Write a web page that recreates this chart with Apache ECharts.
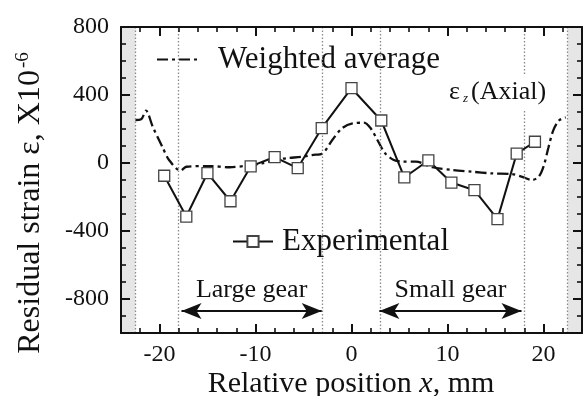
<!DOCTYPE html>
<html>
<head>
<meta charset="utf-8">
<script src="https://cdn.jsdelivr.net/npm/echarts@6/dist/echarts.min.js"></script>
<style>html,body{margin:0;padding:0;background:#fff;}#c{width:583px;height:396px;}</style>
</head>
<body>
<div id="c"></div>
<script>
// ---- data ----
var expX = [-19.5, -17.2, -15.0, -12.6, -10.5, -8.0, -5.6, -3.1, 0.0, 3.1, 5.5, 8.0, 10.4, 12.8, 15.2, 17.2, 19.1];
var expY = [-75, -315, -60, -225, -20, 35, -30, 205, 440, 250, -85, 15, -115, -160, -330, 55, 125];
var avgX = [-22.5, -21.9, -21.4, -20.7, -19.7, -19.0, -17.8, -17.2, -14.8, -12.7, -10.6, -9.3, -7.9, -6.8, -5.1, -4.1, -3.0, -2.0, -1.0, 0.1, 1.3, 2.0, 2.7, 3.5, 4.4, 5.3, 6.7, 8.4, 10.5, 12.5, 14.6, 16.7, 17.7, 18.8, 19.5, 20.0, 20.5, 21.0, 21.6, 22.3];
var avgY = [253, 257, 308, 214, 96, 18, -45, -22, -18, -25, -14, -2, 18, 28, 37, 47, 57, 135, 204, 233, 237, 204, 135, 57, 18, 8, 8, -25, -41, -51, -61, -65, -80, -100, -80, -20, 90, 190, 250, 268];
var xMajorTicks = [-20, -10, 0, 10, 20];
var yMajorTicks = [-800, -400, 0, 400, 800];
var shadedSpans = [[-24, -22.5], [22.5, 24]];
var dottedLines = [-22.5, -18, -3, 3, 18, 22.5];
var largeGearSpan = [-17.7, -3.1];
var smallGearSpan = [2.9, 17.7];
var gearArrowY = -870;
var seriesNames = ['Weighted average', 'Experimental'];

var SERIF = '"Liberation Serif", "Times New Roman", serif';
function pairs(xs, ys) { return xs.map(function (x, i) { return [x, ys[i]]; }); }

var chart = echarts.init(document.getElementById('c'));

function xAx(pos, major) {
  return {
    type: 'value', position: pos, min: -24, max: 24, z: 10,
    interval: major ? undefined : 2,
    axisLine: { show: !major, onZero: false, lineStyle: { color: '#111', width: 2 } },
    axisTick: major ? { show: true, inside: true, length: 9, customValues: xMajorTicks, lineStyle: { color: '#111', width: 2 } }
                    : { show: true, inside: true, length: 5, lineStyle: { color: '#111', width: 1.6 } },
    axisLabel: (major && pos === 'bottom') ? { show: true, customValues: xMajorTicks, fontFamily: SERIF, fontSize: 24, color: '#111', margin: 10 } : { show: false },
    splitLine: { show: false }
  };
}
function yAx(pos, major) {
  return {
    type: 'value', position: pos, min: -1000, max: 800, z: 10,
    interval: major ? undefined : 100,
    axisLine: { show: !major, onZero: false, lineStyle: { color: '#111', width: 2 } },
    axisTick: major ? { show: true, inside: true, length: 9, customValues: yMajorTicks, lineStyle: { color: '#111', width: 2 } }
                    : { show: true, inside: true, length: 5, lineStyle: { color: '#111', width: 1.6 } },
    axisLabel: (major && pos === 'left') ? { show: true, customValues: yMajorTicks, fontFamily: SERIF, fontSize: 24, color: '#111', margin: 12 } : { show: false },
    splitLine: { show: false }
  };
}

var option = {
  animation: false,
  backgroundColor: '#fff',
  grid: { left: 121, right: 1, top: 27, bottom: 63, containLabel: false },
  xAxis: [xAx('bottom', false), xAx('bottom', true), xAx('top', false), xAx('top', true)],
  yAxis: [yAx('left', false), yAx('left', true), yAx('right', false), yAx('right', true)],
  legend: [
    {
      data: [seriesNames[0]], left: 150, top: 41, itemWidth: 42, itemHeight: 12,
      itemStyle: { opacity: 0 },
      backgroundColor: '#fff', padding: [3, 6, 3, 6],
      textStyle: { fontFamily: SERIF, fontSize: 31, color: '#111', padding: [0, 0, 0, 14] },
      selectedMode: false
    },
    {
      data: [seriesNames[1]], left: 226, top: 223, itemWidth: 40, itemHeight: 14,
      backgroundColor: '#fff', padding: [3, 6, 3, 6],
      textStyle: { fontFamily: SERIF, fontSize: 31, color: '#111', padding: [0, 0, 0, 4] },
      selectedMode: false
    }
  ],
  graphic: [
    {
      type: 'text', left: 447, top: 75, z: 10,
      style: {
        text: 'ε{z|z}(Axial)', fill: '#111', font: '26px ' + SERIF,
        backgroundColor: '#fff', padding: [4, 2, 4, 2],
        rich: { z: { fontSize: 13, fontStyle: 'italic', fontFamily: SERIF, verticalAlign: 'bottom', padding: [13, 3, 0, 3], fill: '#111' } }
      }
    },
    {
      type: 'text', x: 31, y: 203, rotation: Math.PI / 2, z: 10,
      style: {
        text: 'Residual strain ε, X10{s|-6}', fill: '#111', font: '32px ' + SERIF,
        align: 'center', verticalAlign: 'middle',
        rich: { s: { fontSize: 19, fontFamily: SERIF, verticalAlign: 'top', padding: [0, 0, 16, 2], fill: '#111' } }
      }
    },
    {
      type: 'text', x: 351, y: 384, z: 10,
      style: {
        text: 'Relative position {i|x}, mm', fill: '#111', font: '30px ' + SERIF,
        align: 'center', verticalAlign: 'middle',
        rich: { i: { fontSize: 30, fontStyle: 'italic', fontFamily: SERIF, fill: '#111' } }
      }
    }
  ],
  series: [
    {
      type: 'line', name: 'guides', data: [], xAxisIndex: 0, yAxisIndex: 0, silent: true, z: 1,
      markArea: {
        silent: true,
        itemStyle: { color: '#e6e6e6' },
        data: shadedSpans.map(function (s) { return [{ xAxis: s[0] }, { xAxis: s[1] }]; })
      },
      markLine: {
        silent: true, symbol: 'none', label: { show: false },
        lineStyle: { color: '#8a8a8a', type: [1.5, 2], width: 1.3 },
        data: dottedLines.map(function (v) { return { xAxis: v }; })
      }
    },
    {
      type: 'line', name: 'arrows', data: [], xAxisIndex: 0, yAxisIndex: 0, silent: true,
      markLine: {
        silent: true, symbol: ['arrow', 'arrow'], symbolSize: [12, 20],
        lineStyle: { color: '#111', type: 'solid', width: 2 },
        label: { show: true, position: 'middle', formatter: '{b}', fontFamily: SERIF, fontSize: 26, color: '#111', distance: 8 },
        data: [
          [{ name: 'Large gear', coord: [largeGearSpan[0], gearArrowY] }, { coord: [largeGearSpan[1], gearArrowY] }],
          [{ name: 'Small gear', coord: [smallGearSpan[0], gearArrowY] }, { coord: [smallGearSpan[1], gearArrowY] }]
        ]
      }
    },
    {
      type: 'line', name: seriesNames[0], data: pairs(avgX, avgY), xAxisIndex: 0, yAxisIndex: 0,
      showSymbol: false, symbol: 'none', smooth: 0.3,
      lineStyle: { color: '#111', width: 2.3, type: [11, 4, 3, 4] },
      itemStyle: { color: '#111' }
    },
    {
      type: 'line', name: seriesNames[1], data: pairs(expX, expY), xAxisIndex: 0, yAxisIndex: 0,
      symbol: 'rect', symbolSize: 11, showSymbol: true,
      lineStyle: { color: '#111', width: 2 },
      itemStyle: { color: '#fff', borderColor: '#444', borderWidth: 1.3 },
      z: 5
    }
  ]
};
chart.setOption(option);
</script>
</body>
</html>
